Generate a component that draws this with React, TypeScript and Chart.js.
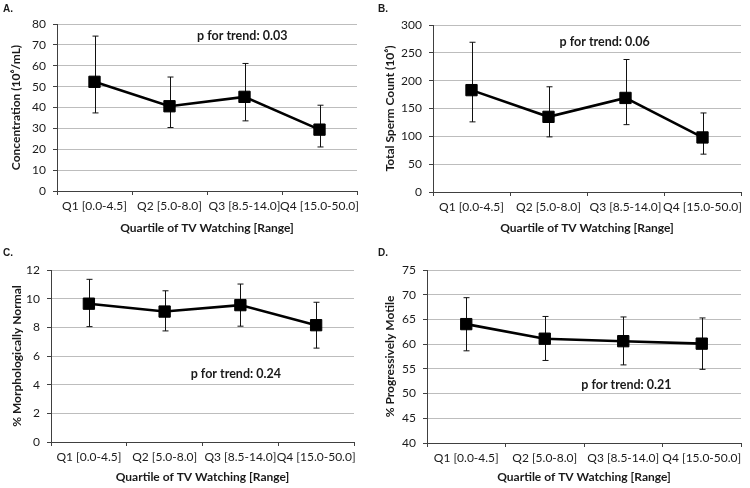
import React, { useEffect, useRef } from 'react';
import { Chart, registerables } from 'chart.js';

Chart.register(...registerables);

// ---- data ----
const categories = ['Q1 [0.0-4.5]', 'Q2 [5.0-8.0]', 'Q3 [8.5-14.0]', 'Q4 [15.0-50.0]'];

const concMean = [52.3, 40.6, 45.1, 29.4];
const concLow = [37.4, 30.4, 33.6, 21.1];
const concHigh = [74.2, 54.6, 61.1, 41.1];

const countMean = [183, 135, 169, 98];
const countLow = [126, 99, 121, 68];
const countHigh = [269, 189, 238, 142];

const morphMean = [9.65, 9.1, 9.55, 8.15];
const morphLow = [8.05, 7.75, 8.08, 6.55];
const morphHigh = [11.35, 10.55, 11.02, 9.75];

const motileMean = [64.05, 61.1, 60.6, 60.1];
const motileLow = [58.65, 56.7, 55.8, 54.9];
const motileHigh = [69.4, 65.6, 65.5, 65.3];

const panelLetters = ['A.', 'B.', 'C.', 'D.'];
const yTitles = ['Concentration (10\u2076/mL)', 'Total Sperm Count (10\u2076)', '% Morphologically Normal', '% Progressively Motile'];
const xTitle = 'Quartile of TV Watching [Range]';
const yMins = [0, 0, 0, 40];
const yMaxs = [80, 300, 12, 75];
const ySteps = [10, 50, 2, 5];
const pTexts = ['p for trend: 0.03', 'p for trend: 0.06', 'p for trend: 0.24', 'p for trend: 0.21'];
const pIndex = [1.97, 1.73, 1.94, 2.04];
const pValue = [74.3, 269.5, 4.78, 51.7];

const means = [concMean, countMean, morphMean, motileMean];
const lows = [concLow, countLow, morphLow, motileLow];
const highs = [concHigh, countHigh, morphHigh, motileHigh];

// ---- layout (per panel, local px) ----
const W = 375;
const H = 244;
const areas = [
  { left: 57, top: 24, right: 357, bottom: 191, yPad: 9, xPad: 9 },
  { left: 58, top: 25, right: 368, bottom: 192, yPad: 8, xPad: 8.5 },
  { left: 51, top: 26, right: 354, bottom: 198, yPad: 10, xPad: 3.5 },
  { left: 52, top: 26, right: 371, bottom: 199, yPad: 7.5, xPad: 3.5 },
];
const offsets = [
  { x: 0, y: 0 },
  { x: 375, y: 0 },
  { x: 0, y: 244 },
  { x: 375, y: 244 },
];

const FONT = 'Lato, "Open Sans", sans-serif';
const TEXT = '#1a1a1a';
const AXIS = '#404040';

function Panel({ idx }: { idx: number }) {
  const ref = useRef<HTMLCanvasElement>(null);
  useEffect(() => {
    const a = areas[idx];
    const lo = lows[idx];
    const hi = highs[idx];
    const plugin = {
      id: 'errorBarsAndLabel',
      beforeDatasetsDraw(chart: any) {
        const { ctx, scales } = chart;
        const x = scales.x;
        const y = scales.y;
        ctx.save();
        ctx.strokeStyle = '#111';
        ctx.lineWidth = 1;
        for (let i = 0; i < lo.length; i++) {
          const px = Math.round(x.getPixelForValue(i)) + 0.5;
          const yl = y.getPixelForValue(lo[i]);
          const yh = y.getPixelForValue(hi[i]);
          ctx.beginPath();
          ctx.moveTo(px, yl);
          ctx.lineTo(px, yh);
          ctx.moveTo(px - 3, yl);
          ctx.lineTo(px + 3, yl);
          ctx.moveTo(px - 3, yh);
          ctx.lineTo(px + 3, yh);
          ctx.stroke();
        }
        ctx.restore();
      },
      afterDatasetsDraw(chart: any) {
        const { ctx, scales } = chart;
        const px = scales.x.getPixelForValue(pIndex[idx]);
        const py = scales.y.getPixelForValue(pValue[idx]);
        ctx.save();
        ctx.fillStyle = TEXT;
        ctx.font = `bold 12.5px ${FONT}`;
        ctx.textAlign = 'center';
        ctx.textBaseline = 'middle';
        ctx.fillText(pTexts[idx], px, py);
        ctx.restore();
      },
    };
    const chart = new Chart(ref.current as HTMLCanvasElement, {
      type: 'line',
      data: {
        labels: categories,
        datasets: [
          {
            data: means[idx],
            borderColor: '#000',
            backgroundColor: '#000',
            borderWidth: 2.6,
            pointStyle: 'rect',
            pointRadius: 8,
            pointBorderWidth: 1,
            pointBackgroundColor: '#000',
            pointBorderColor: '#000',
            tension: 0,
          },
        ],
      },
      options: {
        responsive: false,
        animation: false,
        events: [],
        layout: { padding: { top: a.top, right: W - a.right, left: 0, bottom: 0 } },
        plugins: { legend: { display: false }, tooltip: { enabled: false } },
        scales: {
          x: {
            type: 'category',
            offset: true,
            grid: { offset: true, drawOnChartArea: false, drawTicks: true, tickLength: 4, color: AXIS },
            border: { display: true, color: AXIS, width: 1 },
            ticks: { color: TEXT, font: { family: FONT, size: 12 }, padding: 4, maxRotation: 0, autoSkip: false },
            title: {
              display: true,
              text: xTitle,
              color: TEXT,
              font: { family: FONT, size: 12, weight: 'bold' },
              padding: { top: 0, bottom: a.xPad },
            },
            afterFit: (s: any) => {
              s.height = H - a.bottom;
            },
          },
          y: {
            min: yMins[idx],
            max: yMaxs[idx],
            grid: { color: '#bdbdbd', tickColor: AXIS, tickLength: 4, lineWidth: 1 },
            border: { display: true, color: AXIS, width: 1 },
            ticks: { stepSize: ySteps[idx], color: TEXT, font: { family: FONT, size: 12 }, padding: 7 },
            title: {
              display: true,
              text: yTitles[idx],
              color: TEXT,
              font: { family: FONT, size: 12, weight: 'bold' },
              padding: { top: a.yPad, bottom: 0 },
            },
            afterFit: (s: any) => {
              s.width = a.left;
            },
          },
        },
      } as any,
      plugins: [plugin],
    });
    return () => chart.destroy();
  }, [idx]);

  const o = offsets[idx];
  return (
    <div style={{ position: 'absolute', left: o.x, top: o.y, width: W, height: H }}>
      <canvas ref={ref} width={W} height={H} style={{ display: 'block', width: W, height: H }} />
      <div
        style={{
          position: 'absolute',
          left: 3,
          top: 3,
          fontFamily: '"Liberation Sans", Arial, sans-serif',
          fontWeight: 'bold',
          fontSize: 10,
          color: TEXT,
          lineHeight: '12px',
        }}
      >
        {panelLetters[idx]}
      </div>
    </div>
  );
}

export default function App() {
  return (
    <div style={{ position: 'absolute', left: 0, top: 0, width: 750, height: 488, background: '#fff' }}>
      {[0, 1, 2, 3].map((i) => (
        <Panel key={i} idx={i} />
      ))}
    </div>
  );
}
